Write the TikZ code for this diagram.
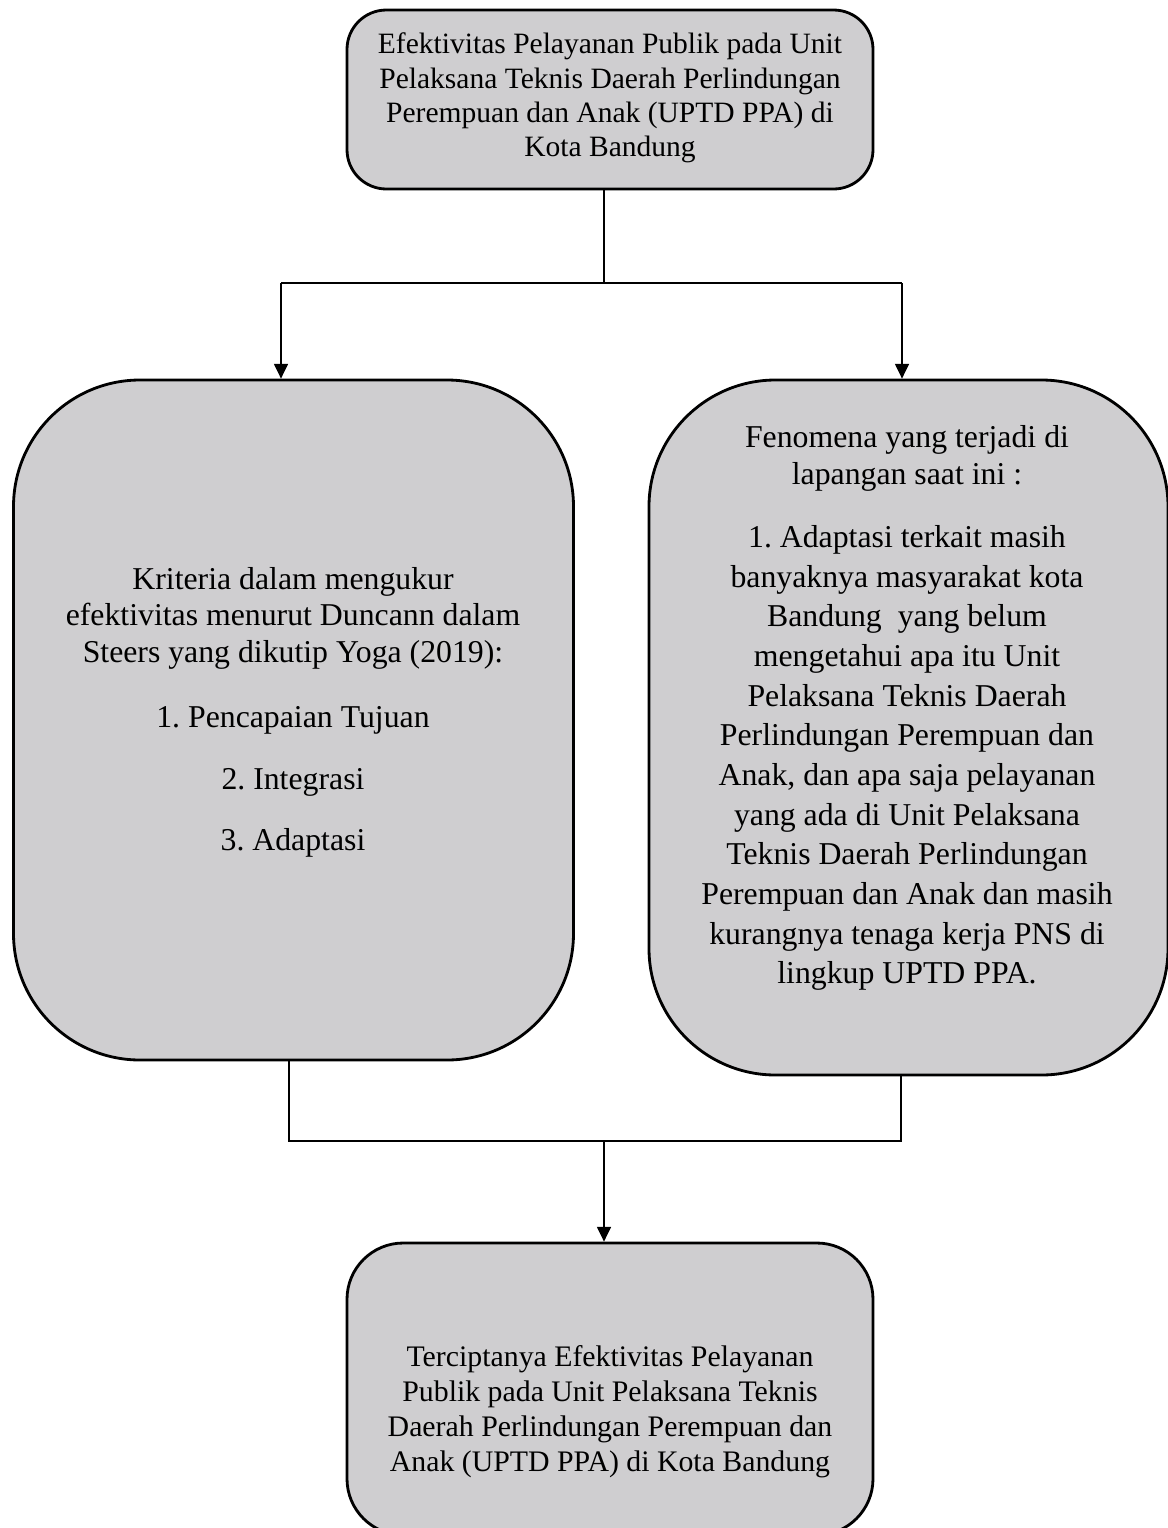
\documentclass[tikz,border=0pt]{standalone}
\usepackage{fontspec}
\setmainfont{Liberation Serif}
\usetikzlibrary{arrows.meta}
\definecolor{boxgray}{RGB}{207,206,208}
\tikzstyle{roundbox} = [draw, line width=2pt, fill=boxgray, rectangle, inner sep=0pt]
\tikzstyle{boxtext} = [align=center, inner sep=0pt]
\tikzstyle{link} = [line width=0.9pt]
\tikzstyle{arrow} = [line width=0.9pt, -{Triangle[width=10pt, length=10.5pt]}]
\frenchspacing

\begin{document}
\begin{tikzpicture}[x=0.025cm, y=-0.025cm]
  \useasboundingbox (0,0) rectangle (1167,1528);

  % boxes
  \node[roundbox, rounded corners=28, minimum width=526*0.025cm, minimum height=179*0.025cm] (topBox) at (610,99.5) {};
  \node[roundbox, rounded corners=90, minimum width=560*0.025cm, minimum height=680*0.025cm] (leftBox) at (293.5,720) {};
  \node[roundbox, rounded corners=90, minimum width=519*0.025cm, minimum height=695*0.025cm] (rightBox) at (908.5,727.5) {};
  \node[roundbox, rounded corners=40, minimum width=526*0.025cm, minimum height=292*0.025cm] (botBox) at (610,1389) {};

  % texts
  \node[boxtext, font=\fontsize{21}{24.4}\selectfont] (topText) at (610,98) {Efektivitas Pelayanan Publik pada Unit\\ Pelaksana Teknis Daerah Perlindungan\\ Perempuan dan Anak (UPTD PPA) di\\ Kota Bandung};
  \node[boxtext, font=\fontsize{22.6}{26.1}\selectfont] (leftText) at (293,712) {Kriteria dalam mengukur\\ efektivitas menurut Duncann dalam\\ Steers yang dikutip Yoga (2019):\\[20pt] 1. Pencapaian Tujuan\\[18pt] 2. Integrasi\\[17pt] 3. Adaptasi};
  \node[boxtext, font=\fontsize{22.6}{28.2}\selectfont] (rightText) at (907,708) {Fenomena yang terjadi di\\[-1.9pt] lapangan saat ini :\\[16.6pt] 1. Adaptasi terkait masih\\ banyaknya masyarakat kota\\ Bandung\ \ yang belum\\ mengetahui apa itu Unit\\ Pelaksana Teknis Daerah\\ Perlindungan Perempuan dan\\ Anak, dan apa saja pelayanan\\ yang ada di Unit Pelaksana\\ Teknis Daerah Perlindungan\\ Perempuan dan Anak dan masih\\ kurangnya tenaga kerja PNS di\\ lingkup UPTD PPA.};
  \node[boxtext, font=\fontsize{21.2}{24.9}\selectfont] (botText) at (610,1412) {Terciptanya Efektivitas Pelayanan\\ Publik pada Unit Pelaksana Teknis\\ Daerah Perlindungan Perempuan dan\\ Anak (UPTD PPA) di Kota Bandung};

  % top split
  \coordinate (split) at (604,283);
  \coordinate (inL) at (281,283);
  \coordinate (inR) at (902,283);
  \draw[link] (split |- topBox.south) -- (split);
  \draw[link] (inL) -- (inR);
  \draw[arrow] (inL) -- (inL |- leftBox.north);
  \draw[arrow] (inR) -- (inR |- rightBox.north);

  % bottom join
  \coordinate (outL) at (289,1141);
  \coordinate (outR) at (901,1141);
  \coordinate (join) at (604,1141);
  \draw[link] (outL |- leftBox.south) -- (outL) -- (outR) -- (outR |- rightBox.south);
  \draw[arrow] (join) -- (join |- botBox.north);
\end{tikzpicture}
\end{document}
